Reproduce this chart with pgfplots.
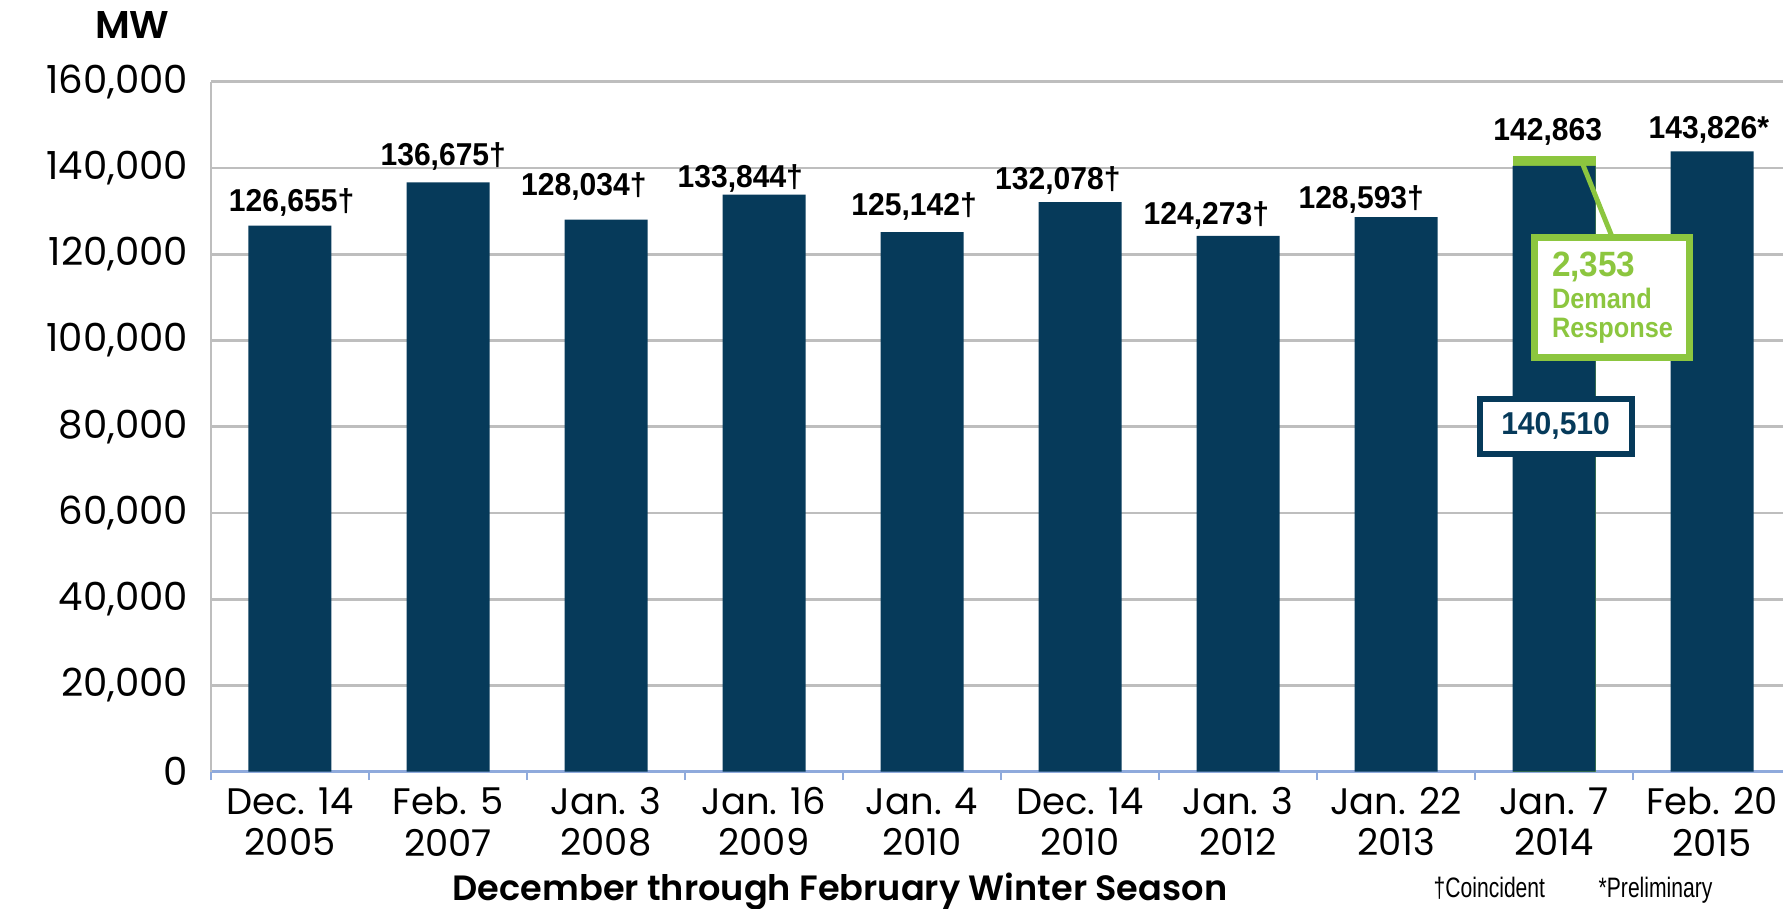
\documentclass[border=0pt]{standalone}
\usepackage{fontspec}
\setmainfont{Poppins}
\newfontfamily\popsb{Poppins}[UprightFont=* SemiBold]
\newfontfamily\cond[FakeStretch=0.95]{Liberation Sans}
\newfontfamily\condn[FakeStretch=0.9]{Liberation Sans}
\newfontfamily\narrow[FakeStretch=0.75]{Liberation Sans}
\usepackage{pgfplots}
\pgfplotsset{compat=1.18}
\definecolor{navy}{HTML}{063A5A}
\definecolor{dgreen}{HTML}{8CC63F}
\definecolor{gridc}{HTML}{BEBEBE}
\definecolor{xaxisc}{HTML}{8FAADC}
\begin{document}
\begin{tikzpicture}
\useasboundingbox (0,0) rectangle (17.83,9.08);
\begin{axis}[
  at={(2.11cm,1.363cm)}, anchor=south west,
  scale only axis, width=15.8cm, height=6.9cm,
  xmin=-0.5, xmax=9.5, ymin=0, ymax=160000,
  axis x line*=bottom, axis y line*=left,
  x axis line style={xaxisc, line width=0.8pt},
  y axis line style={gridc, line width=0.8pt},
  ymajorgrids, grid style={gridc, line width=0.8pt},
  ytick={0,20000,...,160000},
  scaled y ticks=false,
  yticklabel style={font=\fontsize{11}{13}\selectfont, xshift=-3pt,
    /pgf/number format/fixed, /pgf/number format/1000 sep={,}, /pgf/number format/assume math mode=true},
  xtick={0,...,9},
  xticklabels={{Dec. 14\\2005},{Feb. 5\\2007},{Jan. 3\\2008},{Jan. 16\\2009},{Jan. 4\\2010},{Dec. 14\\2010},{Jan. 3\\2012},{Jan. 22\\2013},{Jan. 7\\2014},{Feb. 20\\2015}},
  xticklabel style={align=center, font=\fontsize{10.5}{11.7}\selectfont, yshift=-1pt},
  major tick length=0pt,
  minor xtick={-0.5,0.5,...,8.5},
  minor tick length=2.4pt,
  tick align=outside,
  minor tick style={xaxisc, line width=0.8pt},
  clip=false,
]
\addplot[ybar, bar width=0.83cm, bar shift=0pt, fill=dgreen, draw=none] coordinates {(8,142863)};
\addplot[ybar, bar width=0.83cm, bar shift=0pt, fill=navy, draw=none] coordinates {
  (0,126655) (1,136675) (2,128034) (3,133844) (4,125142)
  (5,132078) (6,124273) (7,128593) (8,140510) (9,143826)};
\addplot[draw=none, mark=none, nodes near coords, point meta=explicit symbolic,
  every node near coord/.style={anchor=base, inner sep=0pt, font=\cond\bfseries\fontsize{9}{10}\selectfont, text=black}]
  table[x=x, y=y, meta=label] {
x y label
0.01 129800 126,655†
0.97 140600 136,675†
1.86 133600 128,034†
2.85 135500 133,844†
3.95 129000 125,142†
4.86 134900 132,078†
5.80 127000 124,273†
6.78 130700 128,593†
7.96 146400 142,863
8.98 146900 143,826*
};
\draw[dgreen, line width=1.4pt] (axis cs:8.165,142400) -- (axis cs:8.37,123800);
\node[draw=dgreen, line width=2pt, fill=white, minimum width=1.55cm, minimum height=1.2cm, inner sep=0pt, align=left, text=dgreen, font=\condn\bfseries\fontsize{8}{8.2}\selectfont] at (axis cs:8.37,109900)
  {{\cond\bfseries\fontsize{10}{10}\selectfont 2,353}\\[1pt]Demand\\Response};
\node[draw=navy, line width=1.7pt, fill=white, minimum width=1.52cm, minimum height=0.55cm, inner sep=0pt, text=navy, font=\cond\bfseries\fontsize{9}{10}\selectfont] at (axis cs:8.01,80100) {140,510};
\end{axis}
\node[anchor=base east, font=\popsb\fontsize{11}{12}\selectfont] at (1.82,8.70) {MW};
\node[anchor=base, font=\popsb\fontsize{10}{11}\selectfont] at (8.40,0.08) {December through February Winter Season};
\node[anchor=base west, inner sep=0pt, font=\narrow\fontsize{8}{9}\selectfont] at (14.33,0.11) {†Coincident};
\node[anchor=base west, inner sep=0pt, font=\narrow\fontsize{8}{9}\selectfont] at (15.98,0.11) {*Preliminary};
\end{tikzpicture}
\end{document}
